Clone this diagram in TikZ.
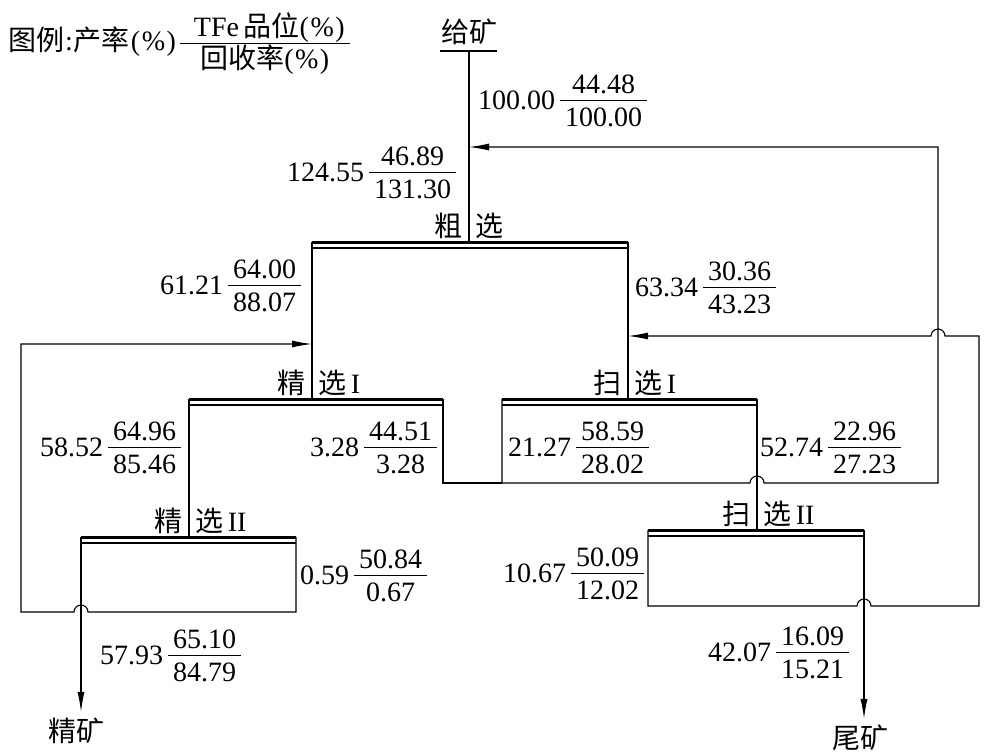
\documentclass[tikz,border=0pt]{standalone}
\usepackage{fontspec}
\setmainfont{Liberation Serif}
\newfontfamily\cjk{Noto Sans CJK SC}
\usetikzlibrary{calc,arrows.meta}

\setlength{\arrayrulewidth}{1.2pt}
\renewcommand{\arraystretch}{0.5}
\newcommand{\frc}[2]{\begin{tabular}{@{\hspace{5pt}}c@{\hspace{5pt}}}\rule[-6pt]{0pt}{6pt}#1\\\hline\rule{0pt}{25pt}#2\end{tabular}}
\newcommand{\flowlab}[3]{#1\hspace{5pt}\frc{#2}{#3}}
\newcommand{\pct}{(\kern1.5pt\%\kern1.5pt)}

\begin{document}
\begin{tikzpicture}[x=1pt, y=-1pt,
    every node/.style={inner sep=0pt, font=\fontsize{28}{31}\selectfont},
    pipe/.style={line width=1.1pt},
    deck/.style={line width=3pt},
    feedarrow/.style={pipe, -{Latex[length=20pt,width=7pt]}}]
    \useasboundingbox (0,0) rectangle (990,753);

    % legend
    \node[anchor=west] (legend) at (8,44) {{\cjk 图例}\kern1pt:\kern1pt{\cjk 产率}\kern1pt\pct\hspace{4pt}\frc{\hspace{9pt}TFe\,{\cjk 品位}\pct\hspace{9pt}}{{\cjk 回收率}\pct}};

    % feed
    \node (feed) at (469,32) {\cjk 给矿};
    \coordinate (F) at (469,51);
    \draw[pipe] ($(F)+(-29,0)$) -- ($(F)+(28,0)$);

    % decks of the cells
    \coordinate (R-l) at (312,242);  \coordinate (R-r) at (628,242);  \coordinate (R-in) at (469,242);
    \coordinate (C1-l) at (189,399); \coordinate (C1-r) at (443,399); \coordinate (C1-in) at (312,399);
    \coordinate (S1-l) at (502,399); \coordinate (S1-r) at (757,399); \coordinate (S1-in) at (628,399);
    \coordinate (C2-l) at (81,537);  \coordinate (C2-r) at (296,537); \coordinate (C2-in) at (189,537);
    \coordinate (S2-l) at (648,530); \coordinate (S2-r) at (864,530); \coordinate (S2-in) at (757,530);
    \foreach \u/\a/\n in {R/粗/, C1/精/I, S1/扫/I, C2/精/II, S2/扫/II} {
        \draw[deck] (\u-l) -- (\u-r);
        \draw[pipe] ($(\u-l)+(0,6)$) -- ($(\u-r)+(0,6)$);
        \node[anchor=east] (\u-a) at ($(\u-in)+(-6,-16)$) {\cjk \a};
        \node[anchor=west] (\u-b) at ($(\u-in)+(6,-16)$) {{\cjk 选}\,\n};
    }

    % main flow
    \draw[pipe] (F) -- (R-in);
    \draw[pipe] (R-l) -- (C1-in);
    \draw[pipe] (R-r) -- (S1-in);
    \draw[pipe] (C1-l) -- (C2-in);
    \draw[pipe] (S1-r) -- (S2-in);

    % middlings back to roughing
    \coordinate (J1) at (502,483);
    \coordinate (B1) at (938,147);
    \draw[pipe] (C1-r) |- (J1);
    \draw[feedarrow] (S1-l) -- (J1) -- ($(S1-r |- J1)+(-7,0)$) arc[start angle=180, end angle=0, radius=7pt]
        -- (B1 |- J1) -- (B1) -- (R-in |- B1);

    % scavenger II concentrate back to scavenger I
    \coordinate (J2) at (648,606);
    \coordinate (B2) at (979,336);
    \draw[feedarrow] (S2-l) -- (J2) -- ($(S2-r |- J2)+(-7,0)$) arc[start angle=180, end angle=0, radius=7pt]
        -- (B2 |- J2) -- (B2) -- ($(B1 |- B2)+(7,0)$) arc[start angle=0, end angle=180, radius=7pt]
        -- (S1-in |- B2);

    % cleaner II tails back to cleaner I
    \coordinate (J3) at (296,612);
    \coordinate (B3) at (21,344);
    \draw[feedarrow] (C2-r) -- (J3) -- ($(C2-l |- J3)+(7,0)$) arc[start angle=0, end angle=180, radius=7pt]
        -- (B3 |- J3) -- (B3) -- (C1-in |- B3);

    % products
    \node (conc) at (76,731) {\cjk 精矿};
    \node (tail) at (860,738) {\cjk 尾矿};
    \draw[feedarrow, shorten >=6pt] (C2-l) -- (C2-l |- conc.north);
    \draw[feedarrow, shorten >=6pt] (S2-r) -- (S2-r |- tail.north);

    % yield, grade / recovery
    \node[anchor=west] (q-feed) at (478,103) {\flowlab{100.00}{44.48}{100.00}};
    \node[anchor=west] (q-rin)  at (287,175) {\flowlab{124.55}{46.89}{131.30}};
    \node[anchor=west] (q-rc)   at (160,288) {\flowlab{61.21}{64.00}{88.07}};
    \node[anchor=west] (q-rt)   at (635,290) {\flowlab{63.34}{30.36}{43.23}};
    \node[anchor=west] (q-c1c)  at (40,450)  {\flowlab{58.52}{64.96}{85.46}};
    \node[anchor=west] (q-c1t)  at (310,450) {\flowlab{3.28}{44.51}{3.28}};
    \node[anchor=west] (q-s1c)  at (508,450) {\flowlab{21.27}{58.59}{28.02}};
    \node[anchor=west] (q-s1t)  at (760,450) {\flowlab{52.74}{22.96}{27.23}};
    \node[anchor=west] (q-c2t)  at (300,578) {\flowlab{0.59}{50.84}{0.67}};
    \node[anchor=west] (q-s2c)  at (503,576) {\flowlab{10.67}{50.09}{12.02}};
    \node[anchor=west] (q-c2c)  at (100,658) {\flowlab{57.93}{65.10}{84.79}};
    \node[anchor=west] (q-s2t)  at (708,655) {\flowlab{42.07}{16.09}{15.21}};
\end{tikzpicture}
\end{document}
